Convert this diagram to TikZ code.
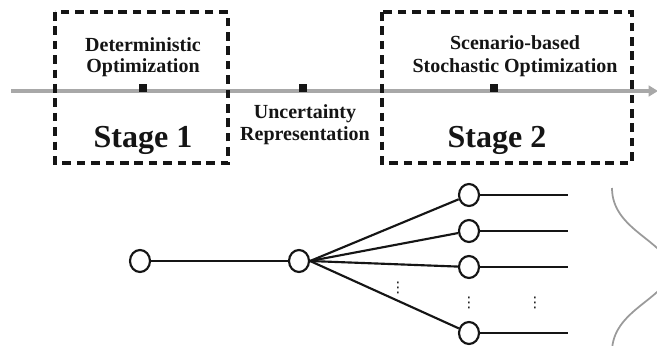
\documentclass[tikz,border=0pt]{standalone}
\usepackage{fontspec}
\setmainfont{Liberation Serif}
\newfontfamily\dotsfont{DejaVu Sans}
\usetikzlibrary{arrows.meta,shapes.geometric}
\definecolor{axisgray}{HTML}{A8A8A8}
\definecolor{bracegray}{HTML}{9A9A9A}
\definecolor{ink}{HTML}{151515}
\begin{document}
\begin{tikzpicture}[x=0.75pt,y=-0.75pt,
  dbox/.style={draw=ink,line width=2.3pt,dash pattern=on 6.5pt off 4.3pt},
  sq/.style={fill=ink,minimum size=6pt,inner sep=0pt},
  small/.style={font=\fontsize{15}{18}\selectfont\bfseries,text=ink,anchor=base,inner sep=0pt},
  big/.style={font=\fontsize{24}{28}\selectfont\bfseries,text=ink,anchor=base,inner sep=0pt},
  tnode/.style={draw=ink,ellipse,line width=1.6pt,minimum width=15pt,minimum height=16.5pt,inner sep=0pt,fill=white},
  edge/.style={draw=ink,line width=1.6pt},
  dots/.style={font=\dotsfont\fontsize{11}{12}\selectfont,text=ink,inner sep=0pt}]
\clip (0,0) rectangle (657,346);
\fill[white] (0,0) rectangle (657,346);
% timeline
\coordinate (a0) at (11,91);
\coordinate (a1) at (658,91);
\draw[axisgray,line width=3.2pt,-{Triangle[length=7pt,width=8pt]}] (a0) -- (a1);
% dashed boxes
\draw[dbox] (55,12) rectangle (228,163);
\draw[dbox] (382,12) rectangle (632,163);
% squares
\node[sq] (s1) at (143,88) {};
\node[sq] (s2) at (303,88) {};
\node[sq] (s3) at (494,88) {};
% texts
\node[small] (t1a) at (143,52) {Deterministic};
\node[small] (t1b) at (143,73) {Optimization};
\node[big] (st1) at (143,147) {Stage 1};
\node[small] (t2a) at (305,118) {Uncertainty};
\node[small] (t2b) at (305,140) {Representation};
\node[small] (t3a) at (515,50) {Scenario-based};
\node[small] (t3b) at (515,73) {Stochastic Optimization};
\node[big] (st2) at (497,147) {Stage 2};
% tree
\node[tnode] (n1) at (140,261) {};
\node[tnode] (n2) at (299,261) {};
\node[tnode] (l1) at (469,195) {};
\node[tnode] (l2) at (469,231) {};
\node[tnode] (l3) at (469,267) {};
\node[tnode] (l4) at (469,333) {};
\draw[edge] (n1) -- (n2);
\foreach \l in {l1,l2,l3,l4} \draw[edge] (n2.east) -- (\l);
\coordinate (e1) at (568,195);
\coordinate (e2) at (568,231);
\coordinate (e3) at (568,267);
\coordinate (e4) at (568,333);
\draw[edge] (l1.east) -- (e1);
\draw[edge] (l2.east) -- (e2);
\draw[edge] (l3.east) -- (e3);
\draw[edge] (l4.east) -- (e4);
% vertical ellipses
\node[dots] (d1) at (398,288) {⋮};
\node[dots] (d2) at (469,303) {⋮};
\node[dots] (d3) at (535,303) {⋮};
% brace
\coordinate (b0) at (612,188);
\coordinate (bt) at (672,270);
\coordinate (b1) at (612,352);
\draw[bracegray,line width=1.3pt] (b0) .. controls (612,230) and (665,240) .. (bt) .. controls (665,300) and (612,310) .. (b1);
\end{tikzpicture}
\end{document}
